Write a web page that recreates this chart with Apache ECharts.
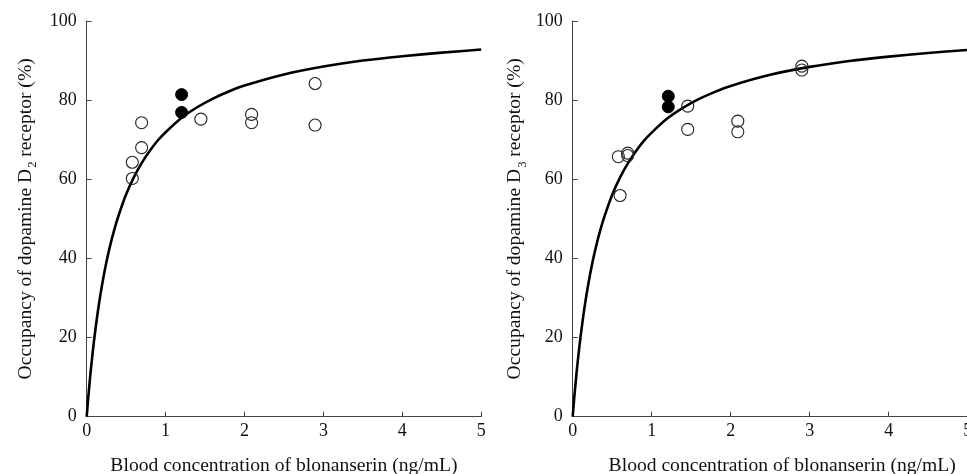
<!DOCTYPE html>
<html>
<head>
<meta charset="utf-8">
<script src="https://cdn.jsdelivr.net/npm/echarts@6/dist/echarts.min.js"></script>
<style>
html,body{margin:0;padding:0;background:#fff;}
#chart{width:967px;height:474px;}
</style>
</head>
<body>
<div id="chart"></div>
<script>
// Fitted occupancy curves
const curveX = [0, 0.01, 0.02, 0.035, 0.05, 0.075, 0.1, 0.15, 0.2, 0.25, 0.3, 0.35, 0.4, 0.5, 0.6, 0.7, 0.8, 0.9, 1.0, 1.2, 1.4, 1.6, 1.8, 2.0, 2.5, 3.0, 3.5, 4.0, 4.5, 5.0];
const curveD2 = [0, 2.5, 4.9, 8.2, 11.4, 16.1, 20.4, 27.8, 33.9, 39.1, 43.5, 47.3, 50.6, 56.2, 60.6, 64.2, 67.2, 69.8, 71.9, 75.5, 78.2, 80.4, 82.2, 83.7, 86.5, 88.5, 90.0, 91.1, 92.0, 92.8];
const curveD3 = [0, 2.5, 4.9, 8.1, 11.3, 16.0, 20.3, 27.7, 33.8, 39.0, 43.4, 47.2, 50.5, 56.1, 60.5, 64.1, 67.1, 69.7, 71.8, 75.4, 78.1, 80.3, 82.1, 83.6, 86.4, 88.4, 89.9, 91.0, 91.9, 92.7];

// D2 observed points
const d2OpenX = [0.578, 0.578, 0.696, 0.696, 1.447, 2.09, 2.09, 2.895, 2.895];
const d2OpenY = [60.2, 64.3, 74.3, 68.0, 75.2, 76.4, 74.3, 84.2, 73.7];
const d2FilledX = [1.203, 1.203];
const d2FilledY = [81.4, 76.9];

// D3 observed points
const d3OpenX = [0.578, 0.60, 0.696, 0.696, 1.456, 1.456, 2.09, 2.09, 2.90, 2.90];
const d3OpenY = [65.7, 55.9, 66.6, 66.0, 78.5, 72.6, 74.7, 72.0, 88.6, 87.6];
const d3FilledX = [1.21, 1.21];
const d3FilledY = [81.0, 78.3];

const xTicks = [0, 1, 2, 3, 4, 5];
const yTicks = [0, 20, 40, 60, 80, 100];

const xTitle = 'Blood concentration of blonanserin (ng/mL)';
const yTitleD2 = ['Occupancy of dopamine D', '2', ' receptor (%)'];
const yTitleD3 = ['Occupancy of dopamine D', '3', ' receptor (%)'];

const zip = (xs, ys) => xs.map((x, i) => [x, ys[i]]);
const FONT = '"Liberation Serif", "DejaVu Serif", serif';
const axisColor = '#444';
const TITLE_SIZE = 19.6;

function xAxis(gi, pad) {
  return {
    type: 'value', gridIndex: gi, min: 0, max: 5, interval: 1,
    name: xTitle, nameLocation: 'middle', nameGap: 39,
    nameTextStyle: {fontFamily: FONT, fontSize: TITLE_SIZE, color: '#111', padding: pad},
    axisLine: {show: true, lineStyle: {color: axisColor, width: 1}},
    axisTick: {show: true, inside: true, length: 5, lineStyle: {color: axisColor}},
    axisLabel: {fontFamily: FONT, fontSize: 18, color: '#111', margin: 6,
      formatter: v => xTicks.includes(v) ? String(v) : ''},
    splitLine: {show: false}
  };
}
function yAxis(gi, parts, gap) {
  return {
    type: 'value', gridIndex: gi, min: 0, max: 100, interval: 20,
    name: '{a|' + parts[0] + '}{s|' + parts[1] + '}{a|' + parts[2] + '}',
    nameLocation: 'middle', nameGap: gap, nameRotate: 90,
    nameTextStyle: {
      fontFamily: FONT, color: '#111',
      rich: {
        a: {fontFamily: FONT, fontSize: TITLE_SIZE, color: '#111', lineHeight: 22},
        s: {fontFamily: FONT, fontSize: 12.5, color: '#111', lineHeight: 13, padding: [15, 0, 0, 1]}
      }
    },
    axisLine: {show: true, lineStyle: {color: axisColor, width: 1}},
    axisTick: {show: true, inside: true, length: 5, lineStyle: {color: axisColor}},
    axisLabel: {fontFamily: FONT, fontSize: 18, color: '#111', margin: 10,
      formatter: v => yTicks.includes(v) ? String(v) : ''},
    splitLine: {show: false}
  };
}
function curve(gi, ys) {
  return {
    type: 'line', xAxisIndex: gi, yAxisIndex: gi, data: zip(curveX, ys),
    showSymbol: false, smooth: 0.25,
    lineStyle: {color: '#000', width: 2.6}, z: 3, silent: true
  };
}
function openPts(gi, xs, ys) {
  return {
    type: 'scatter', xAxisIndex: gi, yAxisIndex: gi, data: zip(xs, ys),
    symbol: 'circle', symbolSize: 12,
    itemStyle: {color: 'rgba(0,0,0,0)', borderColor: '#222', borderWidth: 1.1, opacity: 1}, z: 4
  };
}
function filledPts(gi, xs, ys) {
  return {
    type: 'scatter', xAxisIndex: gi, yAxisIndex: gi, data: zip(xs, ys),
    symbol: 'circle', symbolSize: 12,
    itemStyle: {color: '#000', borderColor: '#000', borderWidth: 1, opacity: 1}, z: 5
  };
}

const chart = echarts.init(document.getElementById('chart'), null, {renderer: 'canvas'});
chart.setOption({
  backgroundColor: '#fff',
  animation: false,
  grid: [
    {left: 86.7, top: 21, width: 394.5, height: 395.7, containLabel: false, outerBoundsMode: 'none'},
    {left: 572.7, top: 21, width: 395, height: 395.7, containLabel: false, outerBoundsMode: 'none'}
  ],
  xAxis: [xAxis(0, [0, 0, 0, 0]), xAxis(1, [0, 0, 0, 24])],
  yAxis: [yAxis(0, yTitleD2, 50), yAxis(1, yTitleD3, 46.5)],
  series: [
    curve(0, curveD2), openPts(0, d2OpenX, d2OpenY), filledPts(0, d2FilledX, d2FilledY),
    curve(1, curveD3), openPts(1, d3OpenX, d3OpenY), filledPts(1, d3FilledX, d3FilledY)
  ]
});
</script>
</body>
</html>
